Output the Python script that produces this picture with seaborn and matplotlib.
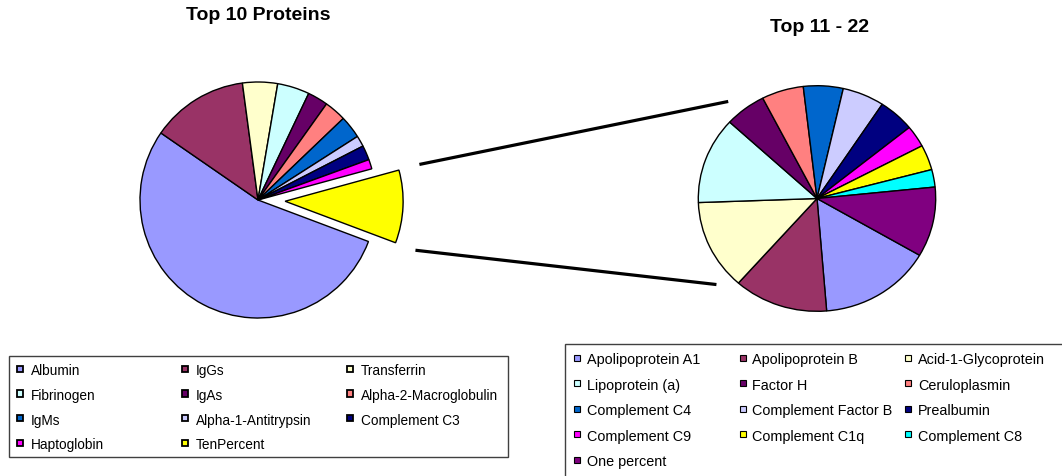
import matplotlib
matplotlib.use("Agg")
import numpy as np
import matplotlib.pyplot as plt
from matplotlib.patches import Rectangle, ConnectionPatch
import seaborn as sns

# ---- data -------------------------------------------------------------
top10_labels = ["Albumin", "IgGs", "Transferrin", "Fibrinogen", "IgAs",
                "Alpha-2-Macroglobulin", "IgMs", "Alpha-1-Antitrypsin",
                "Complement C3", "Haptoglobin", "TenPercent"]
top10_values = [54.0, 13.3, 4.8, 4.4, 2.8, 3.0, 3.1, 1.5, 2.0, 1.3, 10.0]
top10_colors = ["#9999FF", "#993366", "#FFFFCC", "#CCFFFF", "#660066", "#FF8080",
                "#0066CC", "#CCCCFF", "#000080", "#FF00FF", "#FFFF00"]

next_labels = ["Apolipoprotein A1", "Apolipoprotein B", "Acid-1-Glycoprotein",
               "Lipoprotein (a)", "Factor H", "Ceruloplasmin", "Complement C4",
               "Complement Factor B", "Prealbumin", "Complement C9",
               "Complement C1q", "Complement C8", "One percent"]
next_values = [1.53, 1.28, 1.29, 1.24, 0.56, 0.57, 0.54, 0.57, 0.49, 0.31,
               0.36, 0.25, 1.00]
next_colors = ["#9999FF", "#993366", "#FFFFCC", "#CCFFFF", "#660066", "#FF8080",
               "#0066CC", "#CCCCFF", "#000080", "#FF00FF", "#FFFF00", "#00FFFF",
               "#800080"]

title_left = "Top 10 Proteins"
title_right = "Top 11 - 22"

# ---- figure setup -------------------------------------------------------
W, H, DPI = 1062, 477, 100
sns.set_theme(style="white")
plt.rcParams["font.family"] = ["Liberation Sans", "DejaVu Sans"]
plt.rcParams["text.color"] = "black"

fig = plt.figure(figsize=(W / DPI, H / DPI), dpi=DPI, facecolor="white")


def fx(x):
    return x / W


def fy(y):
    return 1 - y / H


def pie_axes(cx, cy, rx, ry, span=1.6):
    """Axes whose unit circle spans rx by ry pixels around (cx, cy)."""
    ax = fig.add_axes([fx(cx - span * rx), fy(cy + span * ry),
                       2 * span * rx / W, 2 * span * ry / H])
    ax.patch.set_alpha(0)
    return ax, span


def finish(ax, span):
    ax.set_aspect("auto")
    ax.set_xlim(-span, span)
    ax.set_ylim(-span, span)
    ax.axis("off")


edge = dict(edgecolor="black", linewidth=1.0)

# left pie: top ten proteins, last slice pulled out
ax1, s1 = pie_axes(258, 201, 118, 118)
pal1 = sns.color_palette(top10_colors)
explode = [0.0] * (len(top10_values) - 1) + [0.23]
w1, _ = ax1.pie(top10_values, colors=pal1, startangle=-20.6, counterclock=False,
                explode=explode, wedgeprops=edge)
finish(ax1, s1)

# right pie: proteins 11 - 22 (slightly oval)
ax2, s2 = pie_axes(817, 199.5, 118.7, 112.8)
pal2 = sns.color_palette(next_colors)
w2, _ = ax2.pie(next_values, colors=pal2, startangle=-30.2, counterclock=False,
                wedgeprops=edge)
finish(ax2, s2)

# titles
fig.text(fx(258), fy(16), title_left, ha="center", va="center",
         fontsize=14, fontweight="bold", color="black")
fig.text(fx(819), fy(27), title_right, ha="center", va="center",
         fontsize=14, fontweight="bold", color="black")

# series lines from the pulled-out slice to the second pie
pulled = w1[-1]
pcx, pcy = pulled.center
gap = 1.18
start_up = (pcx + gap * np.cos(np.radians(pulled.theta2)),
            pcy + gap * np.sin(np.radians(pulled.theta2)))
start_lo = (pcx + gap * np.cos(np.radians(pulled.theta1)),
            pcy + gap * np.sin(np.radians(pulled.theta1)))
reach = 1.14
end_up = (reach * np.cos(np.radians(131)), reach * np.sin(np.radians(131)))
end_lo = (reach * np.cos(np.radians(222)), reach * np.sin(np.radians(222)))
for a, b in [(start_up, end_up), (start_lo, end_lo)]:
    con = ConnectionPatch(xyA=a, coordsA=ax1.transData, xyB=b,
                          coordsB=ax2.transData, color="black", linewidth=2.3,
                          capstyle="butt")
    fig.add_artist(con)


# ---- legends ---------------------------------------------------------------
def draw_key(wedges, labels, x0, y0, colw, rowh, ncol, fontsize, msize, mlw, dx):
    for i, (w, lab) in enumerate(zip(wedges, labels)):
        r, c = divmod(i, ncol)
        x = x0 + c * colw
        y = y0 + r * rowh
        fig.add_artist(Rectangle((fx(x - msize / 2), fy(y + msize / 2)),
                                 msize / W, msize / H, transform=fig.transFigure,
                                 facecolor=w.get_facecolor(), edgecolor="black",
                                 linewidth=mlw))
        fig.text(fx(x + dx), fy(y), lab, ha="left", va="center_baseline",
                 fontsize=fontsize, color="black")


# left legend box
fig.add_artist(Rectangle((fx(9.3), fy(458.3)), 499 / W, 101 / H,
                         transform=fig.transFigure, facecolor="none",
                         edgecolor="#404040", linewidth=1.0))
draw_key(w1, top10_labels, 20, 370, 165, 24.6, 3, 9.8, 6.5, 1.3, 10.7)

# right legend box (runs past the figure edge)
fig.add_artist(Rectangle((fx(565), fy(345 + 300)), 700 / W, 300 / H,
                         transform=fig.transFigure, facecolor="none",
                         edgecolor="#404040", linewidth=1.0))
draw_key(w2, next_labels, 576.7, 358.5, 165.8, 25.6, 3, 10.4, 6.0, 0.8, 10.0)

fig.savefig("out.png", dpi=DPI, facecolor="white")
